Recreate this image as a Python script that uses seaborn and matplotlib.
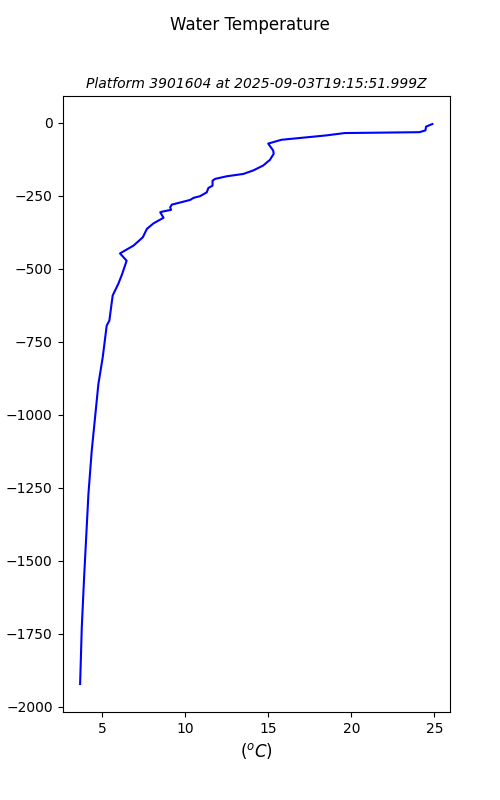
import pandas as pd
import seaborn as sns
import matplotlib
matplotlib.use('Agg')
import matplotlib.pyplot as plt

# Temperature profile
temperature = [24.88, 24.5, 24.46, 24.1, 19.6, 18.5, 15.8, 15.0, 15.3, 15.33,
               15.1, 14.7, 14.1, 13.5, 12.5, 11.8, 11.65, 11.65, 11.4, 11.3,
               10.9, 10.5, 10.3, 9.2, 9.1, 9.15, 8.7, 8.5, 8.7, 8.1,
               7.7, 7.45, 6.9, 6.08, 6.48, 6.2, 5.98, 5.64, 5.44, 5.28,
               5.04, 4.78, 4.38, 4.18, 3.92, 3.78, 3.68]
depth = [-5, -14, -27, -33, -36, -44, -59, -72, -96, -107,
         -128, -147, -164, -176, -184, -193, -199, -216, -224, -239,
         -252, -258, -265, -281, -290, -299, -304, -307, -326, -345,
         -364, -393, -421, -448, -473, -520, -552, -592, -678, -695,
         -804, -895, -1123, -1272, -1557, -1728, -1922]

platform = '3901604'
timestamp = '2025-09-03T19:15:51.999Z'

df = pd.DataFrame({'temp': temperature, 'depth': depth})

fig, ax = plt.subplots(figsize=(5, 8), dpi=100)
sns.lineplot(data=df, x='temp', y='depth', sort=False, estimator=None,
             color='blue', ax=ax)

fig.suptitle('Water Temperature')
ax.set_title(f'Platform {platform} at {timestamp}', fontsize=10, style='italic')
ax.set_xlabel('($^oC$)', fontsize=12)
ax.set_ylabel('depth (m)')

plt.savefig('out.png', dpi=100)
